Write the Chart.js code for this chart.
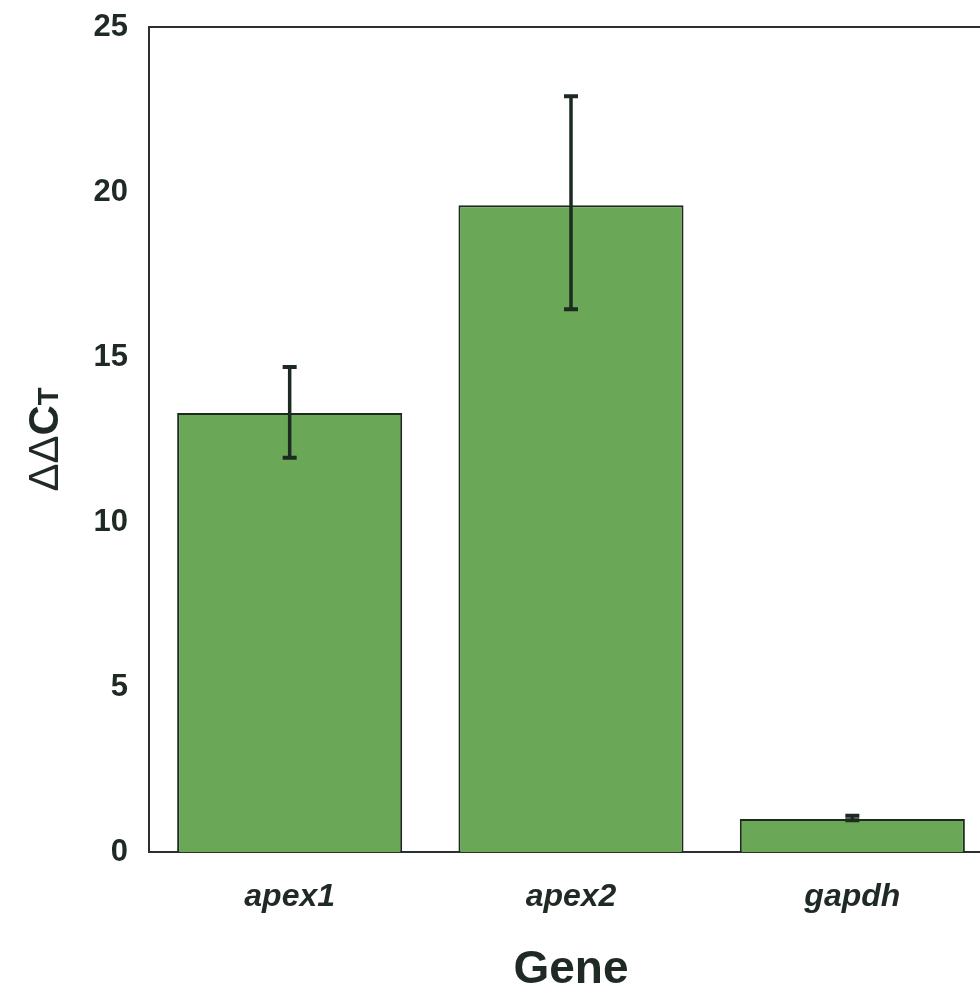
<!DOCTYPE html>
<html>
<head>
<meta charset="utf-8">
<script src="https://cdn.jsdelivr.net/npm/chart.js@4/dist/chart.umd.min.js"></script>
<style>
  html, body { margin: 0; padding: 0; background: #ffffff; overflow: hidden; }
  canvas { display: block; }
</style>
</head>
<body>
<canvas id="c" width="1000" height="1010" style="width:1000px;height:1010px"></canvas>
<script>
// ---- data ----
const categories = ['apex1', 'apex2', 'gapdh'];
const ddctValues = [13.3, 19.6, 1.0];
const errLow = [11.95, 16.45, 0.96];
const errHigh = [14.7, 22.9, 1.1];
const yTicks = [0, 5, 10, 15, 20, 25];

const INK = '#1f2a24';
const FONT = "'Liberation Sans', Arial, Helvetica, sans-serif";

const errorBars = {
  id: 'errorBars',
  afterDatasetsDraw(chart) {
    const ctx = chart.ctx;
    const meta = chart.getDatasetMeta(0);
    const y = chart.scales.y;
    ctx.save();
    ctx.strokeStyle = '#1c2a22';
    ctx.lineCap = 'butt';
    meta.data.forEach((bar, i) => {
      const x = bar.x;
      const yl = y.getPixelForValue(errLow[i]);
      const yh = y.getPixelForValue(errHigh[i]);
      ctx.lineWidth = 3.5;
      ctx.beginPath();
      ctx.moveTo(x, yl);
      ctx.lineTo(x, yh);
      ctx.stroke();
      ctx.lineWidth = 4;
      ctx.beginPath();
      ctx.moveTo(x - 7, yl); ctx.lineTo(x + 7, yl);
      ctx.moveTo(x - 7, yh); ctx.lineTo(x + 7, yh);
      ctx.stroke();
    });
    ctx.restore();
  }
};

const frame = {
  id: 'frame',
  afterDraw(chart) {
    const ctx = chart.ctx;
    const a = chart.chartArea;
    ctx.save();
    ctx.strokeStyle = '#2a302c';
    ctx.lineWidth = 2;
    ctx.beginPath();
    ctx.moveTo(a.left, a.top);
    ctx.lineTo(a.right + 10, a.top);
    ctx.stroke();
    // y-axis title: ΔΔC with small T, rotated
    ctx.translate(58, (a.top + a.bottom) / 2);
    ctx.rotate(-Math.PI / 2);
    ctx.fillStyle = INK;
    ctx.textBaseline = 'alphabetic';
    const parts = [
      { t: 'ΔΔ', f: 'normal 42px ' + FONT },
      { t: 'C', f: 'bold 42px ' + FONT },
      { t: 'T', f: 'bold 29px ' + FONT }
    ];
    let total = 0;
    parts.forEach(p => { ctx.font = p.f; p.w = ctx.measureText(p.t).width; total += p.w; });
    let x = -total / 2;
    parts.forEach(p => { ctx.font = p.f; ctx.fillText(p.t, x, 0); x += p.w; });
    ctx.restore();
  }
};

new Chart(document.getElementById('c'), {
  type: 'bar',
  data: {
    labels: categories,
    datasets: [{
      data: ddctValues,
      backgroundColor: '#6aa857',
      borderColor: '#1d2a20',
      borderWidth: 2,
      barPercentage: 0.8,
      categoryPercentage: 1.0
    }]
  },
  options: {
    responsive: false,
    devicePixelRatio: 1,
    animation: false,
    layout: { padding: { top: 27, right: 7, bottom: 0, left: 0 } },
    plugins: { legend: { display: false }, tooltip: { enabled: false } },
    scales: {
      x: {
        grid: { display: false, drawTicks: false },
        border: { display: true, color: '#2a302c', width: 2 },
        ticks: {
          color: INK,
          padding: 26,
          font: { family: FONT, size: 32, weight: 'bold', style: 'italic' }
        },
        title: {
          display: true,
          text: 'Gene',
          color: INK,
          font: { family: FONT, size: 46, weight: 'bold' },
          padding: { top: 0, bottom: 12 }
        },
        afterFit(s) { s.height = 158; s.paddingLeft = 0; s.paddingRight = 0; }
      },
      y: {
        min: 0,
        max: 25,
        afterBuildTicks(s) { s.ticks = yTicks.map(v => ({ value: v })); },
        grid: { display: false, drawTicks: false },
        border: { display: true, color: '#2a302c', width: 2 },
        ticks: {
          color: INK,
          padding: 21,
          font: { family: FONT, size: 31, weight: 'bold' }
        },
        afterFit(s) { s.width = 149; s.paddingTop = 0; s.paddingBottom = 0; }
      }
    }
  },
  plugins: [errorBars, frame]
});
</script>
</body>
</html>
